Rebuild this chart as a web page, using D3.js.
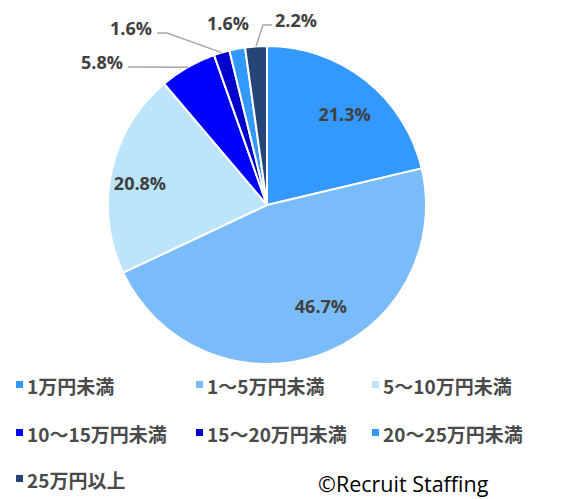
<!DOCTYPE html>
<html>
<head>
<meta charset="utf-8">
<script src="https://cdn.jsdelivr.net/npm/d3@7"></script>
<style>
  body { margin: 0; background: #fff; }
  svg { display: block; }
</style>
</head>
<body>
<div id="box-div"></div>
<script>
// データ
const categories = ['1万円未満', '1～5万円未満', '5～10万円未満', '10～15万円未満', '15～20万円未満', '20～25万円未満', '25万円以上'];
const shares = [21.3, 46.7, 20.8, 5.8, 1.6, 1.6, 2.2];
const sliceColors = ['#3399FF', '#7ABCF9', '#BCE4FA', '#0000FF', '#0000CC', '#3399FF', '#264478'];

const dms = { width: 569, height: 499, cx: 267, cy: 205, r: 159 };

const svg = d3.select('#box-div').append('svg')
    .attr('width', dms.width)
    .attr('height', dms.height)

const pieArea = svg.append('g')
    .attr('transform', `translate(${dms.cx},${dms.cy})`)

const pie = d3.pie().sort(null).value(d => d.v)
const arcs = pie(shares.map((v, i) => ({ v, i })))

const arcGen = d3.arc().innerRadius(0).outerRadius(dms.r)

pieArea.selectAll('path')
    .data(arcs)
    .join('path')
    .attr('d', arcGen)
    .attr('fill', d => sliceColors[d.data.i])
    .attr('stroke', '#fff')
    .attr('stroke-width', 2)

const fmt = v => v.toFixed(1) + '%'
const labelFont = "bold 18px 'Open Sans', 'Noto Sans', sans-serif"

// 内側ラベル
const inside = { 0: [0, 7, 125], 1: [15, -10, 118], 2: [0, 6, 130] }
Object.keys(inside).forEach(k => {
    const a = arcs[k]
    const [dx, dy, rr] = inside[k]
    const c = d3.arc().innerRadius(rr).outerRadius(rr).centroid(a)
    pieArea.append('text')
        .attr('x', c[0] + dx)
        .attr('y', c[1] + dy)
        .attr('text-anchor', 'middle')
        .attr('dominant-baseline', 'central')
        .style('font', labelFont)
        .attr('fill', '#404040')
        .text(fmt(a.data.v))
})

// 外側ラベル (引き出し線)
const outer = d3.arc().innerRadius(dms.r).outerRadius(dms.r)
const outside = [
    { i: 3, pts: [[-139, -138]], lx: -144, ly: -143, anchor: 'end' },
    { i: 4, pts: [[-100, -172], [-110, -172]], lx: -115, ly: -177, anchor: 'end' },
    { i: 5, pts: null, lx: -39, ly: -182, anchor: 'middle' },
    { i: 6, pts: [[-4, -180], [5, -180]], lx: 8, ly: -185, anchor: 'start' }
]
outside.forEach(o => {
    const a = arcs[o.i]
    const c = outer.centroid(a)
    if (o.pts) {
        pieArea.append('path')
            .attr('d', d3.line()([c, ...o.pts]))
            .attr('fill', 'none')
            .attr('stroke', '#A6A6A6')
            .attr('stroke-width', 1.5)
    }
    pieArea.append('text')
        .attr('x', o.lx)
        .attr('y', o.ly)
        .attr('text-anchor', o.anchor)
        .attr('dominant-baseline', 'central')
        .style('font', labelFont)
        .attr('fill', '#404040')
        .text(fmt(a.data.v))
})

// 凡例
const legend = svg.append('g')
const colX = [16, 196, 372]
const rowY = [385, 433, 479]
categories.forEach((name, i) => {
    const x = colX[i % 3], y = rowY[Math.floor(i / 3)]
    legend.append('rect')
        .attr('x', x)
        .attr('y', y - 4)
        .attr('width', 7)
        .attr('height', 7)
        .attr('fill', sliceColors[i])
    legend.append('text')
        .attr('x', x + 11)
        .attr('y', y)
        .attr('dominant-baseline', 'central')
        .style('font', "bold 19px 'Noto Sans CJK JP', sans-serif")
        .attr('fill', '#4A4A4A')
        .text(name)
})

svg.append('text')
    .attr('x', 318)
    .attr('y', 492)
    .style('font', "21.5px 'Open Sans', sans-serif")
    .attr('fill', '#000')
    .text('©Recruit Staffing')
</script>
</body>
</html>
